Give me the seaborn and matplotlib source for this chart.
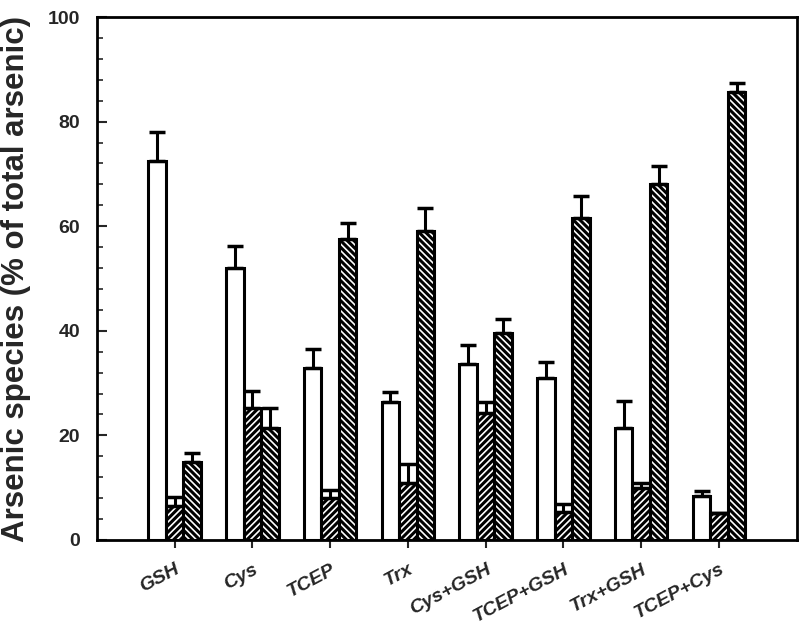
import numpy as np
import pandas as pd
import matplotlib
matplotlib.use("Agg")
import matplotlib.pyplot as plt
import seaborn as sns
from matplotlib.ticker import MultipleLocator

# treatments and arsenic species (% of total arsenic)
treatments = ["GSH", "Cys", "TCEP", "Trx", "Cys+GSH", "TCEP+GSH", "Trx+GSH", "TCEP+Cys"]
species = ["open", "dense", "light"]

open_vals = [72.5, 52.0, 32.9, 26.4, 33.6, 31.0, 21.4, 8.4]
open_err = [5.5, 4.2, 3.6, 1.9, 3.7, 3.0, 5.2, 1.0]
dense_vals = [6.5, 25.2, 8.0, 10.9, 24.3, 5.4, 9.9, 5.2]
dense_err = [1.7, 3.3, 1.6, 3.6, 2.1, 1.5, 1.0, 0.0]
light_vals = [14.9, 21.4, 57.6, 59.1, 39.6, 61.5, 68.1, 85.7]
light_err = [1.7, 3.8, 3.0, 4.4, 2.7, 4.2, 3.4, 1.7]

df = pd.DataFrame({
    "treatment": treatments * 3,
    "species": np.repeat(species, len(treatments)),
    "value": open_vals + dense_vals + light_vals,
})
errs = [open_err, dense_err, light_err]

sns.set_theme(style="ticks")
plt.rcParams["font.family"] = ["Liberation Sans", "DejaVu Sans"]
plt.rcParams["hatch.linewidth"] = 2.2
plt.rcParams["hatch.color"] = "black"

fig = plt.figure(figsize=(8, 6.33), dpi=100)
ax = fig.add_axes([0.121, 0.147, 0.875, 0.826])

sns.barplot(data=df, x="treatment", y="value", hue="species", order=treatments,
            hue_order=species, palette=["white", "white", "white"], width=0.675,
            errorbar=None, edgecolor="black", linewidth=2.2, legend=False, ax=ax)

hatches = [None, "/////", "\\\\\\\\\\"]
for cont, h, err in zip(ax.containers, hatches, errs):
    xs, ys = [], []
    for p in cont.patches:
        if h:
            p.set_hatch(h)
        xs.append(p.get_x() + p.get_width() / 2)
        ys.append(p.get_height())
    ax.errorbar(xs, ys, yerr=[np.zeros(len(err)), err], fmt="none", ecolor="black",
                elinewidth=2.2, capsize=6, capthick=2.5, zorder=1)

ax.set_xlim(-1, 8)
ax.set_ylim(0, 100)
ax.yaxis.set_major_locator(MultipleLocator(20))
ax.yaxis.set_minor_locator(MultipleLocator(4))
ax.tick_params(axis="y", which="major", direction="in", length=7, width=1.5,
               labelsize=14, pad=12)
ax.tick_params(axis="y", which="minor", direction="in", length=4, width=1.2)
ax.tick_params(axis="x", which="major", direction="out", length=6, width=1.5, pad=9)
for lbl in ax.get_yticklabels():
    lbl.set_fontweight("bold")
ax.set_xticks(range(len(treatments)))
ax.set_xticklabels(treatments, rotation=28, ha="right", rotation_mode="anchor",
                   fontsize=14, fontweight="bold", fontstyle="italic")

for s in ax.spines.values():
    s.set_linewidth(2)
    s.set_color("black")

ax.set_xlabel("")
ax.set_ylabel("Arsenic species (% of total arsenic)", fontsize=22.5, fontweight="bold",
              labelpad=12)

fig.savefig("out.png", dpi=100)
